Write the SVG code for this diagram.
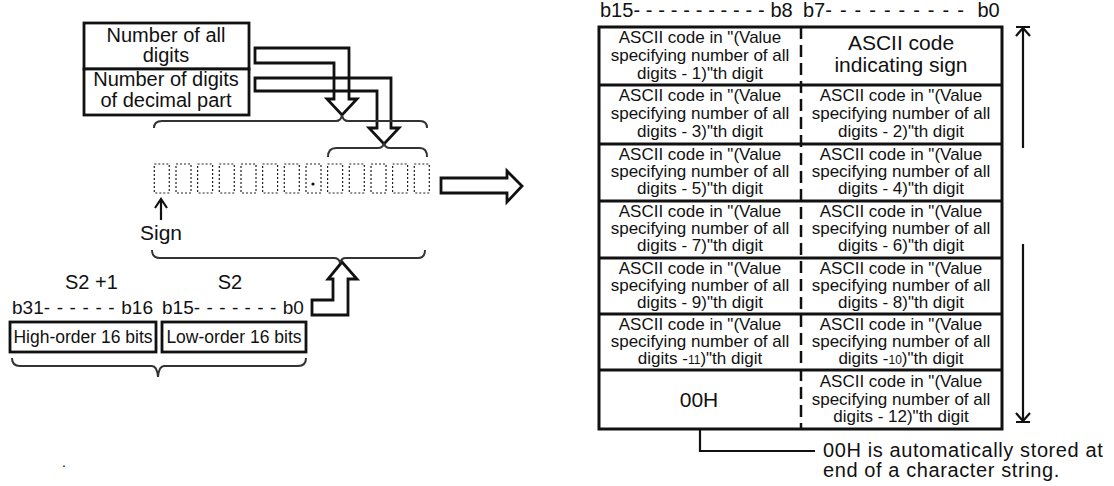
<svg xmlns="http://www.w3.org/2000/svg" width="1114" height="486" viewBox="0 0 1114 486">
<style>
text{font-family:"Liberation Sans",Arial,sans-serif;fill:#111}
.c{text-anchor:middle}
.t20{font-size:20px}
.t17{font-size:17px}
.t21{font-size:21px}
.box{fill:#fff;stroke:#111;stroke-width:2.8}
.ln{fill:none;stroke:#111;stroke-width:2.8}
.ar{fill:none;stroke:#111;stroke-width:2.2}
.br{fill:none;stroke:#333;stroke-width:2}
.dig{fill:none;stroke:#222;stroke-width:1.2;stroke-dasharray:2 2}
.sm{font-size:12px}
</style>

<g id="input-boxes">
<rect class="box" x="84" y="23" width="165" height="46"/>
<rect class="box" x="84" y="69" width="165" height="46"/>
<text class="c t20" x="166" y="42">Number of all</text>
<text class="c t20" x="166" y="62">digits</text>
<text class="c t20" x="166" y="86">Number of digits</text>
<text class="c t20" x="166" y="107">of decimal part</text>
</g>

<g id="connectors">
<polygon class="ln" points="255,78 391,78 391,128 399,128 384,144 369,128 377,128 377,91 255,91"/>
<polygon class="ln" points="255,48 349,48 349,99 357,99 342,115 327,99 334,99 334,63 255,63"/>
<polygon class="ln" points="441,178 507,178 507,171 522,186 507,202 507,193 441,193"/>
<polygon class="ln" points="312,300 333,300 333,279 328,279 342,262 357,279 348,279 348,315 312,315"/>
<path class="ar" d="M161,220 V200 M155,208 L161,199 L167,208"/>
<path class="ar" d="M1023,27 V148 M1016,27 H1030 M1016,36 L1023,28 L1030,36"/>
<path class="ar" d="M1023,244 V422 M1016,422 H1030 M1016,413 L1023,421 L1030,413"/>
<path class="ar" d="M700,416 V451 H815 M693,428 L700,416 L707,428"/>
</g>

<g id="braces">
<path class="br" d="M154,128 Q154,121 162,121 H336 Q341,121 342,115 Q343,121 348,121 H420 Q427,121 427,128"/>
<path class="br" d="M328,157 Q328,148 336,148 H378 Q383,148 384,143 Q385,148 390,148 H420 Q427,148 427,157"/>
<path class="br" d="M152,250 Q152,258 160,258 H334 Q339,258 340,263 Q341,258 346,258 H418 Q425,258 425,250"/>
<path class="br" d="M12,358 Q12,366 20,366 H152 Q157,366 158,377 Q159,366 164,366 H298 Q306,366 306,358"/>
</g>

<g id="digits">
<rect class="dig" x="154.3" y="164" width="15" height="29"/>
<rect class="dig" x="176" y="164" width="15" height="29"/>
<rect class="dig" x="197.6" y="164" width="15" height="29"/>
<rect class="dig" x="219.3" y="164" width="15" height="29"/>
<rect class="dig" x="241" y="164" width="15" height="29"/>
<rect class="dig" x="262.6" y="164" width="15" height="29"/>
<rect class="dig" x="284.3" y="164" width="15" height="29"/>
<rect class="dig" x="306" y="164" width="15" height="29"/>
<circle cx="313" cy="184" r="1.6" fill="#111"/>
<rect class="dig" x="327.6" y="164" width="15" height="29"/>
<rect class="dig" x="349.3" y="164" width="15" height="29"/>
<rect class="dig" x="371" y="164" width="15" height="29"/>
<rect class="dig" x="392.6" y="164" width="15" height="29"/>
<rect class="dig" x="414.3" y="164" width="15" height="29"/>
<text class="t21" x="140" y="240">Sign</text>
</g>

<g id="s2-words">
<text class="t20" x="65" y="289">S2 +1</text>
<text class="t20 c" x="230" y="289">S2</text>
<text x="12" y="314" font-size="19">b31<tspan letter-spacing="6.6">------</tspan>b16</text>
<text x="162" y="314" font-size="19">b15<tspan letter-spacing="6.4">-------</tspan>b0</text>
<rect class="box" x="10" y="322" width="146" height="30"/>
<rect class="box" x="162" y="322" width="144" height="30"/>
<text class="c" font-size="17.5" x="83" y="343">High-order 16 bits</text>
<text class="c" font-size="17.5" x="234" y="343">Low-order 16 bits</text>
<text x="62" y="467" font-size="14">.</text>
</g>

<g id="table">
<text x="600" y="17" font-size="20">b15<tspan letter-spacing="5.8">-----------</tspan>b8</text>
<text x="803" y="17" font-size="20">b7<tspan letter-spacing="8">----------</tspan> b0</text>
<rect x="599" y="27" width="403" height="402" fill="#fff" stroke="#111" stroke-width="3"/>
<path class="ln" d="M599,85 H1002 M599,144 H1002 M599,201 H1002 M599,258 H1002 M599,314 H1002 M599,370 H1002"/>
<path d="M801,27 V429" fill="none" stroke="#111" stroke-width="2.5" stroke-dasharray="12 6"/>

<text class="c t17" x="700" y="43">ASCII code in "(Value</text>
<text class="c t17" x="700" y="61">specifying number of all</text>
<text class="c t17" x="700" y="79">digits - 1)"th digit</text>
<text class="c t21" x="901" y="50">ASCII code</text>
<text class="c t21" x="901" y="72">indicating sign</text>

<text class="c t17" x="700" y="101">ASCII code in "(Value</text>
<text class="c t17" x="700" y="119">specifying number of all</text>
<text class="c t17" x="700" y="137">digits - 3)"th digit</text>
<text class="c t17" x="901" y="101">ASCII code in "(Value</text>
<text class="c t17" x="901" y="119">specifying number of all</text>
<text class="c t17" x="901" y="137">digits - 2)"th digit</text>

<text class="c t17" x="700" y="160">ASCII code in "(Value</text>
<text class="c t17" x="700" y="177">specifying number of all</text>
<text class="c t17" x="700" y="194">digits - 5)"th digit</text>
<text class="c t17" x="901" y="160">ASCII code in "(Value</text>
<text class="c t17" x="901" y="177">specifying number of all</text>
<text class="c t17" x="901" y="194">digits - 4)"th digit</text>

<text class="c t17" x="700" y="217">ASCII code in "(Value</text>
<text class="c t17" x="700" y="234">specifying number of all</text>
<text class="c t17" x="700" y="251">digits - 7)"th digit</text>
<text class="c t17" x="901" y="217">ASCII code in "(Value</text>
<text class="c t17" x="901" y="234">specifying number of all</text>
<text class="c t17" x="901" y="251">digits - 6)"th digit</text>

<text class="c t17" x="700" y="274">ASCII code in "(Value</text>
<text class="c t17" x="700" y="291">specifying number of all</text>
<text class="c t17" x="700" y="308">digits - 9)"th digit</text>
<text class="c t17" x="901" y="274">ASCII code in "(Value</text>
<text class="c t17" x="901" y="291">specifying number of all</text>
<text class="c t17" x="901" y="308">digits - 8)"th digit</text>

<text class="c t17" x="700" y="330">ASCII code in "(Value</text>
<text class="c t17" x="700" y="347">specifying number of all</text>
<text class="c t17" x="700" y="364">digits -<tspan class="sm">11</tspan>)"th digit</text>
<text class="c t17" x="901" y="330">ASCII code in "(Value</text>
<text class="c t17" x="901" y="347">specifying number of all</text>
<text class="c t17" x="901" y="364">digits -<tspan class="sm">10</tspan>)"th digit</text>

<text class="c t21" x="699" y="407">00H</text>
<text class="c t17" x="901" y="387">ASCII code in "(Value</text>
<text class="c t17" x="901" y="405">specifying number of all</text>
<text class="c t17" x="901" y="422">digits - 12)"th digit</text>
</g>

<g id="note">
<text x="823" y="457" font-size="20" letter-spacing="0.6">00H is automatically stored at</text>
<text x="823" y="477" font-size="20" letter-spacing="0.6">end of a character string.</text>
</g>
</svg>
